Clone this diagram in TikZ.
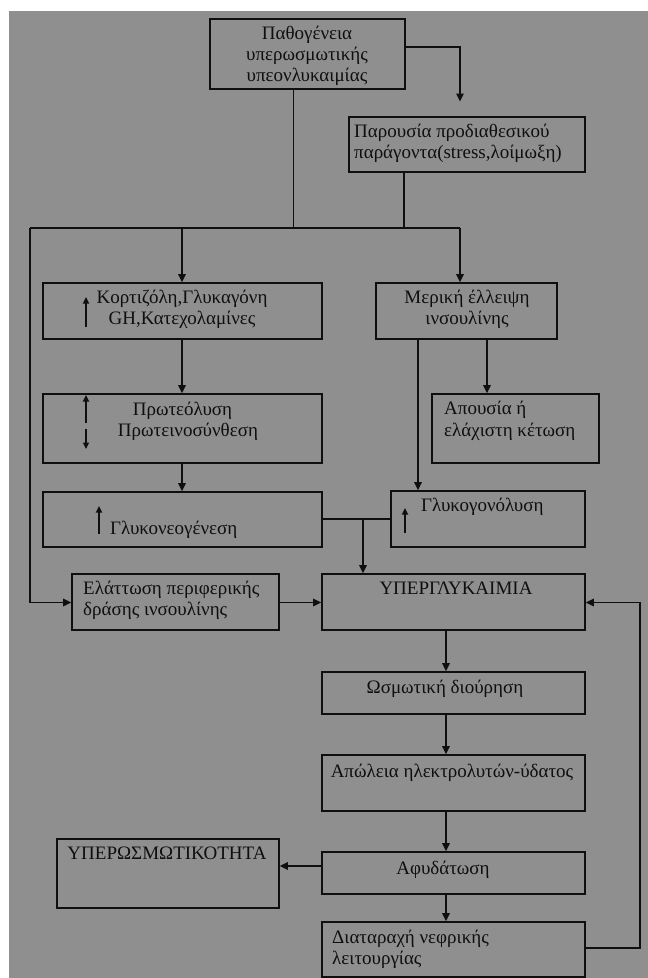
\documentclass[tikz,border=0pt]{standalone}
\usepackage{fontspec}
\setmainfont{Liberation Serif}
\usetikzlibrary{arrows.meta}
\definecolor{bggray}{RGB}{143,143,143}
\definecolor{ink}{RGB}{15,15,15}
\tikzset{
  box/.style={draw=ink, line width=1.6pt, rectangle, inner sep=0pt},
  txt/.style={text=ink, inner sep=0pt, font=\fontsize{19}{21}\selectfont},
  conn/.style={draw=ink, line width=1.6pt},
  arr/.style={conn, -{Triangle[length=8pt,width=7.5pt]}},
  small/.style={draw=ink, line width=1.6pt, -{Triangle[length=6.5pt,width=6pt]}}
}
\newcommand{\mybox}[5]{\node[box, minimum width=#4-#2, minimum height=#5-#3] (#1) at ({(#2+#4)/2},{(#3+#5)/2}) {};}
\begin{document}
\begin{tikzpicture}[x=1pt,y=-1pt]
\useasboundingbox (0,0) rectangle (648,978);
\fill[bggray] (9,11) rectangle (648,978);

% boxes
\mybox{top}{210}{19}{405}{89}
\mybox{par}{349}{117}{585}{172}
\mybox{kort}{43}{283}{322}{339}
\mybox{mer}{376}{283}{557}{339}
\mybox{prot}{43}{394}{322}{463}
\mybox{apous}{432}{394}{599}{463}
\mybox{glneo}{43}{492}{322}{547}
\mybox{glgon}{391}{491}{585}{547}
\mybox{elat}{72}{574}{279}{630}
\mybox{hyper}{322}{574}{585}{630}
\mybox{osm}{322}{672}{585}{714}
\mybox{apol}{322}{755}{585}{811}
\mybox{afyd}{322}{852}{585}{894}
\mybox{diat}{322}{922}{585}{977}
\mybox{hosm}{57}{839}{279}{908}

% texts
\node[txt, anchor=mid] (t1a) at (307,37) {Παθογένεια};
\node[txt, anchor=mid] (t1b) at (307,58) {υπερωσμωτικής};
\node[txt, anchor=mid] (t1c) at (307,79) {υπεονλυκαιμίας};
\node[txt, anchor=mid west] (t2a) at (354,135) {Παρουσία προδιαθεσικού};
\node[txt, anchor=mid west] (t2b) at (354,156.5) {παράγοντα(stress,λοίμωξη)};
\node[txt, anchor=mid] (t3a) at (182,301.5) {Κορτιζόλη,Γλυκαγόνη};
\node[txt, anchor=mid] (t3b) at (182,322) {GH,Κατεχολαμίνες};
\node[txt, anchor=mid] (t4a) at (467,301.5) {Μερική έλλειψη};
\node[txt, anchor=mid] (t4b) at (467,322) {ινσουλίνης};
\node[txt, anchor=mid] (t5a) at (182.5,413) {Πρωτεόλυση};
\node[txt, anchor=mid] (t5b) at (188,434) {Πρωτεινοσύνθεση};
\node[txt, anchor=mid west] (t6a) at (444,412.5) {Απουσία ή};
\node[txt, anchor=mid west] (t6b) at (444,434) {ελάχιστη κέτωση};
\node[txt, anchor=mid west] (t7) at (110,532) {Γλυκονεογένεση};
\node[txt, anchor=mid west] (t8) at (421,509) {Γλυκογονόλυση};
\node[txt, anchor=mid west] (t9a) at (83,592.5) {Ελάττωση περιφερικής};
\node[txt, anchor=mid west] (t9b) at (83,613) {δράσης ινσουλίνης};
\node[txt, anchor=mid] (t10) at (456,592.5) {ΥΠΕΡΓΛΥΚΑΙΜΙΑ};
\node[txt, anchor=mid] (t11) at (445,691) {Ωσμωτική διούρηση};
\node[txt, anchor=mid] (t12) at (452,775) {Απώλεια ηλεκτρολυτών-ύδατος};
\node[txt, anchor=mid] (t13) at (443,872) {Αφυδάτωση};
\node[txt, anchor=mid west] (t14a) at (332,941) {Διαταραχή νεφρικής};
\node[txt, anchor=mid west] (t14b) at (332,962.5) {λειτουργίας};
\node[txt, anchor=mid] (t15) at (167,857) {ΥΠΕΡΩΣΜΩΤΙΚΟΤΗΤΑ};

% small arrows inside boxes
\draw[small] (86,327) -- (86,297);
\draw[small] (86,423) -- (86,395);
\draw[small] (86,429) -- (86,449);
\draw[small] (99,534) -- (99,506);
\draw[small] (405,533) -- (405,508);

% junction coordinates
\coordinate (j1) at (460,101.5);
\coordinate (hl) at (30,228);
\coordinate (hr) at (460,228);
\coordinate (jg) at (363,519);
\coordinate (fb) at (640,602.5);

% connectors
\draw[arr] (top.east |- 0,47) -| (j1);
\draw[conn] (top.south -| 293.5,0) -- (293.5,228);
\draw[conn] (par.south -| 404,0) -- (404,228);
\draw[conn] (hl) -- (hr);
\draw[arr] (182,228) -- (kort.north -| 182,0);
\draw[arr] (hr) -- (mer.north -| 460,0);
\draw[arr] (hl) |- (elat.west |- 0,602.5);
\draw[arr] (kort.south -| 182,0) -- (prot.north -| 182,0);
\draw[arr] (prot.south -| 182,0) -- (glneo.north -| 182,0);
\draw[arr] (mer.south -| 418,0) -- (glgon.north -| 418,0);
\draw[arr] (mer.south -| 487,0) -- (apous.north -| 487,0);
\draw[conn] (glneo.east |- jg) -- (glgon.west |- jg);
\draw[arr] (jg) -- (hyper.north -| jg);
\draw[arr] (elat.east |- 0,602.5) -- (hyper.west |- 0,602.5);
\draw[arr] (hyper.south -| 446,0) -- (osm.north -| 446,0);
\draw[arr] (osm.south -| 446,0) -- (apol.north -| 446,0);
\draw[arr] (apol.south -| 446,0) -- (afyd.north -| 446,0);
\draw[arr] (afyd.south -| 446,0) -- (diat.north -| 446,0);
\draw[arr] (afyd.west |- 0,866) -- (hosm.east |- 0,866);
\draw[arr] (diat.east |- 0,948) -| (fb) -- (hyper.east |- fb);
\end{tikzpicture}
\end{document}
